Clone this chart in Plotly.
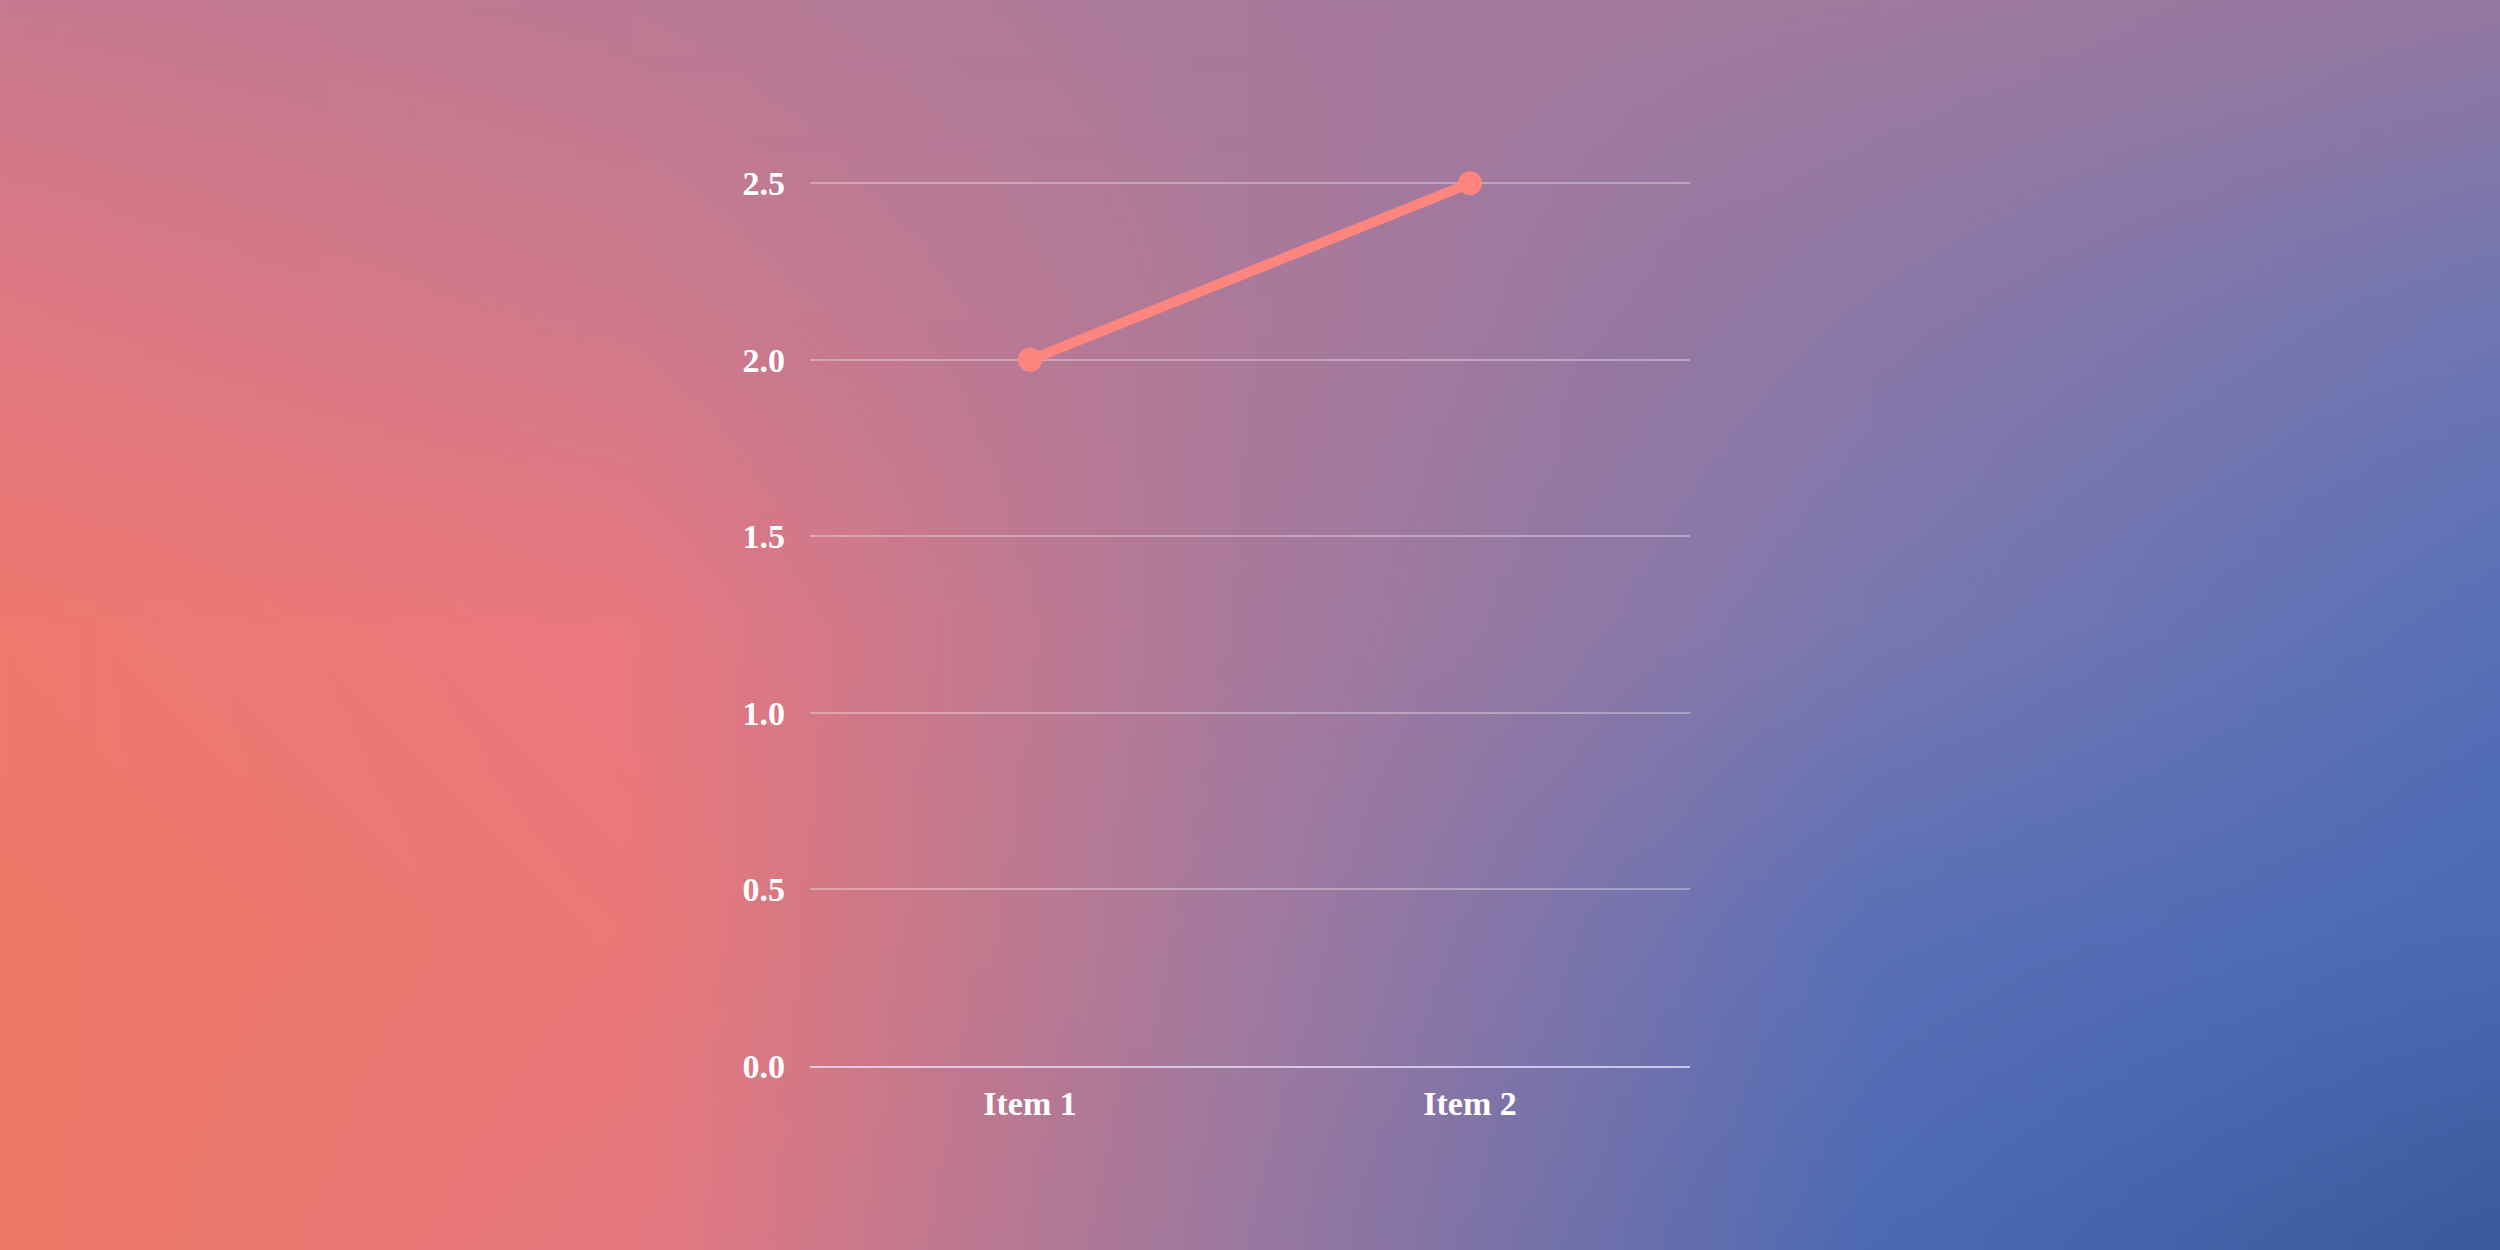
import base64
import struct
import zlib

import numpy as np
import plotly.graph_objects as go

categories = ["Item 1", "Item 2"]
values = [2.0, 2.5]
y_ticks = [0.0, 0.5, 1.0, 1.5, 2.0, 2.5]

# background colour samples, rows top -> bottom, columns left -> right
bg_grid = [
    ["#C87890", "#BC7A94", "#A87A9C", "#A07A9E", "#9478A2"],
    ["#E07882", "#D07A8C", "#AC7A9A", "#8C78A8", "#7076B2"],
    ["#F07870", "#EA7880", "#A97A9C", "#7A78B0", "#5870B8"],
    ["#F07868", "#EC7878", "#A27AA0", "#5A70B8", "#4A6AB4"],
    ["#F07868", "#E87880", "#9A78A0", "#4C6AB4", "#3A5A9E"],
]

W, H = 2500, 1250
M_L, M_R, M_T, M_B = 810, 810, 148, 184


def hex_rgb(h):
    h = h.lstrip("#")
    return [int(h[i:i + 2], 16) for i in (0, 2, 4)]


def gradient_png(grid, w=250, h=125):
    g = np.array([[hex_rgb(c) for c in row] for row in grid], dtype=float)
    ny, nx = g.shape[0], g.shape[1]
    gx = np.linspace(0, nx - 1, w)
    gy = np.linspace(0, ny - 1, h)
    x0 = np.clip(np.floor(gx).astype(int), 0, nx - 2)
    y0 = np.clip(np.floor(gy).astype(int), 0, ny - 2)
    tx = (gx - x0)[None, :, None]
    ty = (gy - y0)[:, None, None]
    a = g[y0][:, x0]
    b = g[y0][:, x0 + 1]
    c = g[y0 + 1][:, x0]
    d = g[y0 + 1][:, x0 + 1]
    img = (1 - ty) * ((1 - tx) * a + tx * b) + ty * ((1 - tx) * c + tx * d)
    img = np.clip(img, 0, 255).astype(np.uint8)
    raw = b"".join(b"\x00" + img[i].tobytes() for i in range(h))

    def chunk(tag, data):
        out = struct.pack(">I", len(data)) + tag + data
        return out + struct.pack(">I", zlib.crc32(tag + data) & 0xFFFFFFFF)

    png = b"\x89PNG\r\n\x1a\n"
    png += chunk(b"IHDR", struct.pack(">IIBBBBB", w, h, 8, 2, 0, 0, 0))
    png += chunk(b"IDAT", zlib.compress(raw, 9))
    png += chunk(b"IEND", b"")
    return "data:image/png;base64," + base64.b64encode(png).decode()


plot_w = W - M_L - M_R
plot_h = H - M_T - M_B

fig = go.Figure()
fig.add_trace(go.Scatter(
    x=categories, y=values, mode="lines+markers",
    line=dict(color="#FF857F", width=10),
    marker=dict(color="#FF857F", size=24),
    hoverinfo="skip", showlegend=False,
))

fig.add_layout_image(dict(
    source=gradient_png(bg_grid),
    xref="paper", yref="paper",
    x=-M_L / plot_w, y=1 + M_T / plot_h,
    sizex=W / plot_w, sizey=H / plot_h,
    xanchor="left", yanchor="top",
    sizing="stretch", layer="below",
))

tick_font = dict(family="Liberation Serif", size=34, color="#FFFFFF", weight="bold")

fig.update_layout(
    width=W, height=H,
    margin=dict(l=M_L, r=M_R, t=M_T, b=M_B, pad=0),
    paper_bgcolor="#A87A9C",
    plot_bgcolor="rgba(0,0,0,0)",
    xaxis=dict(
        type="category", range=[-0.5, 1.5],
        showgrid=False, zeroline=False,
        showline=True, linecolor="rgba(235,225,255,0.75)", linewidth=2,
        tickfont=tick_font, ticklabelstandoff=6,
    ),
    yaxis=dict(
        range=[0, 2.6], tickvals=y_ticks, tickformat=".1f",
        showgrid=True, gridcolor="rgba(255,255,255,0.32)", gridwidth=2,
        zeroline=False, showline=False,
        tickfont=tick_font, ticklabelstandoff=24,
    ),
)

# drop the default page margin so the chart fills the window
fig.write_html(
    "out.html",
    config={"displayModeBar": False},
    post_script="document.body.style.margin='0';",
)
